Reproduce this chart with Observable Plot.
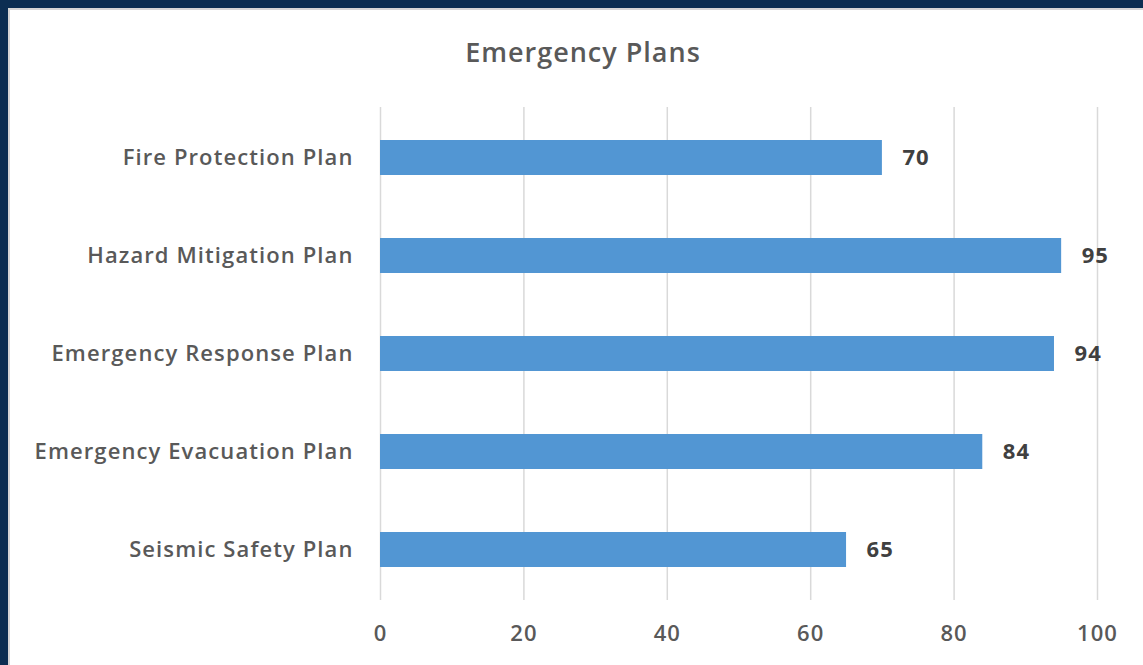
<!DOCTYPE html>
<html>
<head>
<meta charset="utf-8">
<script src="https://cdn.jsdelivr.net/npm/d3@7"></script>
<script src="https://cdn.jsdelivr.net/npm/@observablehq/plot@0.6"></script>
<style>
  html, body { margin: 0; padding: 0; background: #0c2e52; width: 1143px; height: 665px; overflow: hidden; }
  #panel {
    position: absolute; left: 8px; top: 8px; width: 1135px; height: 657px;
    background: #ffffff; border-left: 2px solid #d6d6d6; border-top: 2px solid #d6d6d6; box-sizing: border-box;
    font-family: "Open Sans", "Noto Sans", sans-serif;
  }
  #title {
    position: absolute; left: 0; top: 23px; width: 1146px; text-align: center;
    font-size: 27px; font-weight: 600; color: #595959; letter-spacing: 1px;
  }
  #chart { position: absolute; left: -2px; top: 70px; }
  #chart text { letter-spacing: 1.1px; }
</style>
</head>
<body>
<div id="panel">
  <div id="title">Emergency Plans</div>
  <div id="chart"></div>
</div>
<script>
const categories = ["Fire Protection Plan", "Hazard Mitigation Plan", "Emergency Response Plan", "Emergency Evacuation Plan", "Seismic Safety Plan"];
const values = [70, 95, 94, 84, 65];
const xTicks = [0, 20, 40, 60, 80, 100];

const data = categories.map((c, i) => ({category: c, value: values[i]}));

const chart = Plot.plot({
  width: 1135,
  height: 585,
  marginLeft: 372,
  marginRight: 46,
  marginTop: 27,
  marginBottom: 65,
  style: {fontFamily: "'Open Sans', 'Noto Sans', sans-serif", background: "transparent"},
  x: {domain: [0, 100], ticks: xTicks, label: null},
  y: {domain: categories, paddingInner: 0.645, paddingOuter: 0.325, label: null},
  marks: [
    Plot.gridX(xTicks, {stroke: "#d9d9d9", strokeOpacity: 1, strokeWidth: 1.5}),
    Plot.barX(data, {x: "value", y: "category", fill: "#5296d3"}),
    Plot.text(data, {x: "value", y: "category", text: d => String(d.value), textAnchor: "start", dx: 20, fontSize: 22, fontWeight: 700, fill: "#404040"}),
    Plot.axisX(xTicks, {tickSize: 0, tickPadding: 25, fontSize: 22, fontWeight: 600, fill: "#595959", label: null}),
    Plot.axisY({tickSize: 0, tickPadding: 27, fontSize: 22, fontWeight: 600, fill: "#595959", label: null})
  ]
});
document.getElementById("chart").appendChild(chart);
</script>
</body>
</html>
